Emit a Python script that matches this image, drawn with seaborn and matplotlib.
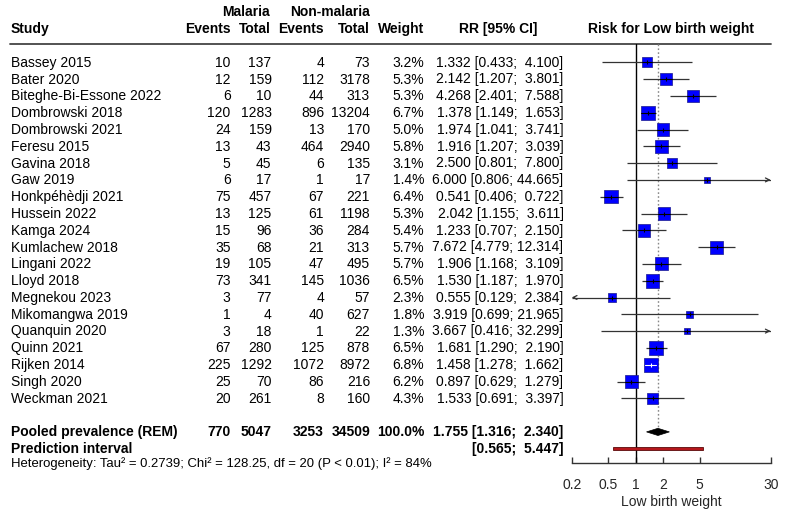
import numpy as np
import pandas as pd
import matplotlib
matplotlib.use("Agg")
import matplotlib.pyplot as plt
import seaborn as sns
from matplotlib.patches import Polygon, Rectangle

sns.set_theme(style="white")
plt.rcParams['font.family'] = ['Liberation Sans', 'DejaVu Sans']

# ---------------- data ----------------
studies = ["Bassey 2015", "Bater 2020", "Biteghe-Bi-Essone 2022", "Dombrowski 2018",
           "Dombrowski 2021", "Feresu 2015", "Gavina 2018", "Gaw 2019", "Honkpéhèdji 2021",
           "Hussein 2022", "Kamga 2024", "Kumlachew 2018", "Lingani 2022", "Lloyd 2018",
           "Megnekou 2023", "Mikomangwa 2019", "Quanquin 2020", "Quinn 2021", "Rijken 2014",
           "Singh 2020", "Weckman 2021"]
ev_mal = [10, 12, 6, 120, 24, 13, 5, 6, 75, 13, 15, 35, 19, 73, 3, 1, 3, 67, 225, 25, 20]
tot_mal = [137, 159, 10, 1283, 159, 43, 45, 17, 457, 125, 96, 68, 105, 341, 77, 4, 18, 280, 1292, 70, 261]
ev_non = [4, 112, 44, 896, 13, 464, 6, 1, 67, 61, 36, 21, 47, 145, 4, 40, 1, 125, 1072, 86, 8]
tot_non = [73, 3178, 313, 13204, 170, 2940, 135, 17, 221, 1198, 284, 313, 495, 1036, 57, 627, 22, 878, 8972, 216, 160]
weight = [3.2, 5.3, 5.3, 6.7, 5.0, 5.8, 3.1, 1.4, 6.4, 5.3, 5.4, 5.7, 5.7, 6.5, 2.3, 1.8, 1.3, 6.5, 6.8, 6.2, 4.3]
rr = [1.332, 2.142, 4.268, 1.378, 1.974, 1.916, 2.500, 6.000, 0.541, 2.042, 1.233, 7.672, 1.906,
      1.530, 0.555, 3.919, 3.667, 1.681, 1.458, 0.897, 1.533]
rr_lo = [0.433, 1.207, 2.401, 1.149, 1.041, 1.207, 0.801, 0.806, 0.406, 1.155, 0.707, 4.779, 1.168,
         1.187, 0.129, 0.699, 0.416, 1.290, 1.278, 0.629, 0.691]
rr_hi = [4.100, 3.801, 7.588, 1.653, 3.741, 3.039, 7.800, 44.665, 0.722, 3.611, 2.150, 12.314, 3.109,
         1.970, 2.384, 21.965, 32.299, 2.190, 1.662, 1.279, 3.397]

pooled_counts = [770, 5047, 3253, 34509]
pooled_weight = 100.0
pooled_rr, pooled_lo, pooled_hi = 1.755, 1.316, 2.340
pi_lo, pi_hi = 0.565, 5.447
heterogeneity = "Heterogeneity: Tau² = 0.2739; Chi² = 128.25, df = 20 (P < 0.01); I² = 84%"

x_ticks = [0.2, 0.5, 1, 2, 5, 30]
x_min, x_max = 0.2, 30

df = pd.DataFrame(dict(study=studies, rr=rr, lo=rr_lo, hi=rr_hi, w=weight))
df["row"] = np.arange(len(df))

# ---------------- figure / layout ----------------
W, H = 790, 515
fig = plt.figure(figsize=(W / 100, H / 100), dpi=100)

row0, step = 62.3, 16.8          # pixel centre of first row and row spacing
def ypix(r):
    return row0 + step * r

tax = fig.add_axes([0, 0, 1, 1])
tax.set_xlim(0, W)
tax.set_ylim(H, 0)
tax.axis("off")

fs = 10
base = 4.4   # baseline offset below row centre (px)

def txt(x, y, s, ha="right", bold=False, size=fs, **kw):
    tax.text(x, y + base * size / fs, s, ha=ha, va="baseline", fontsize=size,
             fontweight="bold" if bold else "normal", color="black", **kw)

# headers
txt(11, 29, "Study", ha="left", bold=True)
txt(269.5, 12, "Malaria", bold=True)
txt(370, 12, "Non-malaria", bold=True)
txt(230.5, 29, "Events", bold=True)
txt(270.5, 29, "Total", bold=True)
txt(324, 29, "Events", bold=True)
txt(370, 29, "Total", bold=True)
txt(424, 29, "Weight", bold=True)
txt(498, 29, "RR [95% CI]", ha="center", bold=True)
txt(671, 29, "Risk for Low birth weight", ha="center", bold=True)
tax.plot([10, 771], [43.5, 43.5], color="#444444", lw=1.3)

def rrstr(m, l, h, with_mean=True):
    s = f"[{l:.3f}; {h:>6.3f}]"
    s = s.replace("; ", ";  " if h < 10 else "; ")
    s = s.replace(";   ", ";  ")
    return (f"{m:.3f} " + s) if with_mean else s

for i in range(len(studies)):
    y = ypix(i)
    txt(11, y, studies[i], ha="left")
    txt(230.5, y, f"{ev_mal[i]}")
    txt(271.5, y, f"{tot_mal[i]}")
    txt(324, y, f"{ev_non[i]}")
    txt(370, y, f"{tot_non[i]}")
    txt(424, y, f"{weight[i]:.1f}%")
    txt(563.5, y, rrstr(rr[i], rr_lo[i], rr_hi[i]))

yp = ypix(22)
txt(11, yp, "Pooled prevalence (REM)", ha="left", bold=True)
txt(230.5, yp, f"{pooled_counts[0]}", bold=True)
txt(271.5, yp, f"{pooled_counts[1]}", bold=True)
txt(324, yp, f"{pooled_counts[2]}", bold=True)
txt(370, yp, f"{pooled_counts[3]}", bold=True)
txt(424, yp, f"{pooled_weight:.1f}%", bold=True)
txt(563.5, yp, rrstr(pooled_rr, pooled_lo, pooled_hi), bold=True)
ypi = ypix(23)
txt(11, ypi, "Prediction interval", ha="left", bold=True)
txt(563.5, ypi, rrstr(None, pi_lo, pi_hi, with_mean=False), bold=True)
txt(11, 462.5, heterogeneity, ha="left", size=9.45)

# ---------------- forest axes ----------------
ax_l, ax_r, ax_t, ax_b = 571.7, 770.7, 44.0, 463.0
ax = fig.add_axes([ax_l / W, 1 - ax_b / H, (ax_r - ax_l) / W, (ax_b - ax_t) / H])
ax.set_xscale("log")
ax.set_xlim(x_min, x_max)
r_top = (ax_t - row0) / step
r_bot = (ax_b - row0) / step
ax.set_ylim(r_bot, r_top)
ax.patch.set_alpha(0)
for s in ["top", "left", "right"]:
    ax.spines[s].set_visible(False)
ax.spines["bottom"].set_color("#333333")
ax.spines["bottom"].set_linewidth(1.0)

px_per_ln = (ax_r - ax_l) / np.log(x_max / x_min)

# reference lines
ax.axvline(1, color="black", lw=1.0, zorder=1)
ax.vlines(pooled_rr, r_top, (427 - row0) / step, colors="#888888", linestyles=(0, (1.2, 1.6)), lw=1.0, zorder=1)

# CI lines and arrows
for i, r in df.iterrows():
    lo_c, hi_c = max(r.lo, x_min), min(r.hi, x_max)
    ax.plot([lo_c, hi_c], [r.row, r.row], color="#333333", lw=0.9, zorder=2, solid_capstyle="butt")
    if r.hi > x_max:
        ax.annotate("", xy=(x_max, r.row), xytext=(x_max / 1.08, r.row),
                    arrowprops=dict(arrowstyle="->", color="#333333", lw=0.9, shrinkA=0, shrinkB=0,
                                    mutation_scale=7), zorder=2)
    if r.lo < x_min:
        ax.annotate("", xy=(x_min, r.row), xytext=(x_min * 1.08, r.row),
                    arrowprops=dict(arrowstyle="->", color="#333333", lw=0.9, shrinkA=0, shrinkB=0,
                                    mutation_scale=7), zorder=2)

# squares (area proportional to weight)
side_px = 14.0 * np.sqrt(df["w"] / 6.8)
sizes = (side_px * 0.72) ** 2
sns.scatterplot(data=df, x="rr", y="row", s=sizes, marker="s", color="#0000FF",
                edgecolor="#1a1a8c", linewidth=0.5, ax=ax, zorder=3, legend=False)

# CI segment over squares (white when inside the box)
for i, r in df.iterrows():
    half = side_px[i] / 2
    ci_px = (np.log(r.hi) - np.log(r.lo)) * px_per_ln
    col = "white" if ci_px < side_px[i] else "black"
    a = r.rr * np.exp(-half / px_per_ln)
    b = r.rr * np.exp(half / px_per_ln)
    ax.plot([max(a, r.lo), min(b, r.hi)], [r.row, r.row], color=col, lw=0.8, zorder=4)
    ax.plot([r.rr], [r.row], marker="|", ms=3.0, mew=0.8, color=col, zorder=4)

# pooled diamond
dh = 3.6 / step
ax.add_patch(Polygon([[pooled_lo, 22], [pooled_rr, 22 - dh], [pooled_hi, 22], [pooled_rr, 22 + dh]],
                     closed=True, facecolor="black", edgecolor="black", lw=0.5, zorder=3))
# prediction interval bar
bh = 3.2 / step
ax.add_patch(Rectangle((pi_lo, 23 - bh / 2), pi_hi - pi_lo, bh, facecolor="#B5161B",
                       edgecolor="#5a0a0a", lw=0.6, zorder=3))

ax.set_yticks([])
ax.set_xticks(x_ticks)
ax.set_xticklabels([f"{t:g}" for t in x_ticks])
ax.xaxis.set_minor_locator(matplotlib.ticker.NullLocator())
ax.tick_params(axis="x", direction="in", length=4.3, width=1.0, color="#333333",
               labelsize=10, pad=11, bottom=True)
ax.set_xlabel("Low birth weight", fontsize=10, labelpad=2)
ax.set_ylabel("")

fig.savefig("out.png", dpi=100)
